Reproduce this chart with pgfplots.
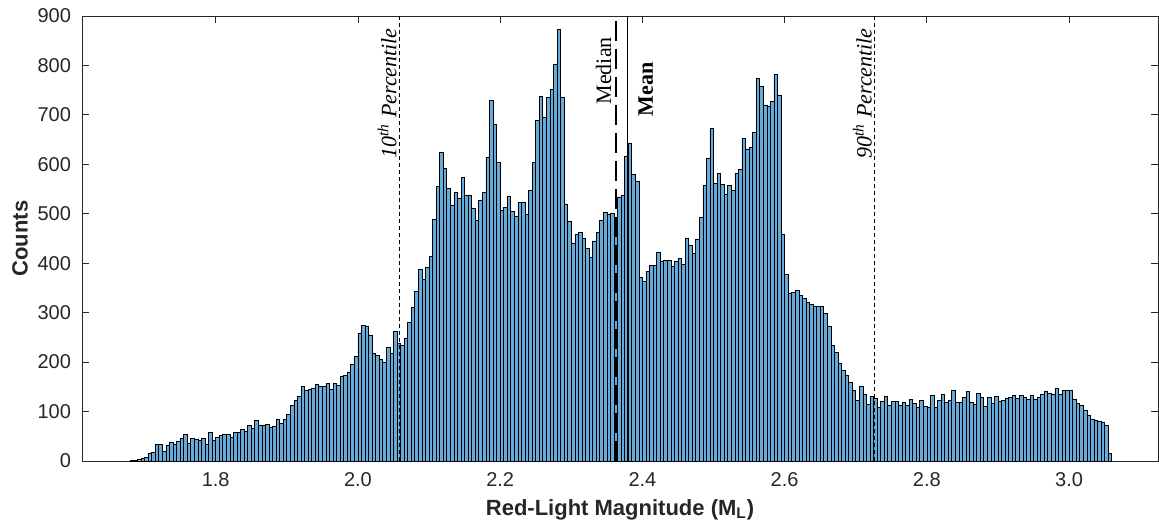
\documentclass[border=0pt]{standalone}
\usepackage{fontspec}
\setmainfont{Liberation Serif}
\setsansfont{Liberation Sans}
\usepackage{pgfplots}
\pgfplotsset{compat=1.18}
\usetikzlibrary{calc}
\definecolor{histblue}{rgb}{0.40,0.67,0.85}
\definecolor{axgray}{rgb}{0.15,0.15,0.15}

\begin{document}
\begin{tikzpicture}
\begin{axis}[scale only axis, width=538pt, height=222.5pt,
  xmin=1.612, xmax=3.125, ymin=0, ymax=900,
  xtick={1.8,2.0,2.2,2.4,2.6,2.8,3.0},
  xticklabels={1.8,2.0,2.2,2.4,2.6,2.8,3.0},
  ytick={0,100,...,900},
  tick align=inside, major tick length=3.5pt,
  axis line style={axgray, line width=0.4pt}, tick style={axgray, line width=0.4pt},
  /pgf/number format/assume math mode=true,
  tick label style={font=\sffamily\fontsize{10}{12}\selectfont, text=axgray},
  xticklabel style={yshift=-2pt}, yticklabel style={xshift=-2pt},
  xlabel={\textbf{Red-Light Magnitude (M\textsubscript{L})}},
  ylabel={\textbf{Counts}},
  label style={font=\sffamily\fontsize{11}{13}\selectfont, text=axgray},
  xlabel style={at={(axis description cs:0.5,-0.11)}, anchor=center},
  ylabel style={at={(axis description cs:-0.0576,0.5)}, anchor=center},
  clip=false]
\addplot[ybar interval, fill=histblue, draw=black, line width=0.35pt] coordinates {
(1.680,1) (1.685,1) (1.690,3) (1.695,5) (1.700,8) (1.705,16) (1.710,18) (1.715,34) (1.720,34) (1.725,20)
(1.730,32) (1.735,38) (1.740,34) (1.745,40) (1.750,46) (1.755,54) (1.760,36) (1.765,46) (1.770,44) (1.775,42)
(1.780,45) (1.785,34) (1.790,58) (1.795,41) (1.800,47) (1.805,51) (1.810,54) (1.815,54) (1.820,48) (1.825,57)
(1.830,58) (1.835,64) (1.840,59) (1.845,72) (1.850,65) (1.855,82) (1.860,73) (1.865,73) (1.870,74) (1.875,69)
(1.880,70) (1.885,84) (1.890,76) (1.895,84) (1.900,94) (1.905,113) (1.910,123) (1.915,130) (1.920,150) (1.925,143)
(1.930,145) (1.935,147) (1.940,155) (1.945,151) (1.950,150) (1.955,157) (1.960,145) (1.965,157) (1.970,153) (1.975,171)
(1.980,173) (1.985,179) (1.990,196) (1.995,211) (2.000,259) (2.005,275) (2.010,273) (2.015,254) (2.020,218) (2.025,214)
(2.030,206) (2.035,200) (2.040,229) (2.045,217) (2.050,262) (2.055,237) (2.060,233) (2.065,249) (2.070,281) (2.075,311)
(2.080,344) (2.085,388) (2.090,368) (2.095,391) (2.100,413) (2.105,488) (2.110,556) (2.115,624) (2.120,591) (2.125,552)
(2.130,518) (2.135,544) (2.140,532) (2.145,573) (2.150,537) (2.155,538) (2.160,510) (2.165,487) (2.170,528) (2.175,544)
(2.180,615) (2.185,729) (2.190,681) (2.195,604) (2.200,507) (2.205,513) (2.210,535) (2.215,505) (2.220,494) (2.225,523)
(2.230,524) (2.235,499) (2.240,548) (2.245,604) (2.250,688) (2.255,738) (2.260,695) (2.265,735) (2.270,751) (2.275,803)
(2.280,872) (2.285,735) (2.290,520) (2.295,484) (2.300,441) (2.305,458) (2.310,463) (2.315,451) (2.320,430) (2.325,411)
(2.330,445) (2.335,463) (2.340,486) (2.345,503) (2.350,498) (2.355,501) (2.360,471) (2.365,534) (2.370,538) (2.375,617)
(2.380,643) (2.385,580) (2.390,565) (2.395,372) (2.400,364) (2.405,384) (2.410,395) (2.415,396) (2.420,421) (2.425,403)
(2.430,405) (2.435,405) (2.440,393) (2.445,403) (2.450,410) (2.455,398) (2.460,451) (2.465,437) (2.470,420) (2.475,449)
(2.480,492) (2.485,557) (2.490,613) (2.495,673) (2.500,561) (2.505,581) (2.510,560) (2.515,540) (2.520,558) (2.525,548)
(2.530,581) (2.535,590) (2.540,653) (2.545,631) (2.550,635) (2.555,664) (2.560,773) (2.565,758) (2.570,720) (2.575,718)
(2.580,728) (2.585,782) (2.590,739) (2.595,459) (2.600,378) (2.605,339) (2.610,341) (2.615,345) (2.620,334) (2.625,329)
(2.630,321) (2.635,317) (2.640,312) (2.645,312) (2.650,312) (2.655,299) (2.660,272) (2.665,234) (2.670,220) (2.675,198)
(2.680,184) (2.685,173) (2.690,159) (2.695,142) (2.700,123) (2.705,150) (2.710,135) (2.715,115) (2.720,130) (2.725,126)
(2.730,109) (2.735,120) (2.740,131) (2.745,112) (2.750,121) (2.755,121) (2.760,112) (2.765,119) (2.770,113) (2.775,125)
(2.780,116) (2.785,108) (2.790,123) (2.795,111) (2.800,109) (2.805,133) (2.810,109) (2.815,123) (2.820,135) (2.825,119)
(2.830,123) (2.835,142) (2.840,119) (2.845,119) (2.850,129) (2.855,140) (2.860,119) (2.865,115) (2.870,136) (2.875,128)
(2.880,111) (2.885,129) (2.890,117) (2.895,131) (2.900,120) (2.905,123) (2.910,127) (2.915,129) (2.920,133) (2.925,126)
(2.930,133) (2.935,129) (2.940,124) (2.945,133) (2.950,125) (2.955,129) (2.960,134) (2.965,140) (2.970,137) (2.975,135)
(2.980,146) (2.985,135) (2.990,142) (2.995,143) (3.000,142) (3.005,125) (3.010,117) (3.015,112) (3.020,102) (3.025,93)
(3.030,84) (3.035,82) (3.040,80) (3.045,79) (3.050,72) (3.055,16) (3.060,0)};
% percentile, median and mean markers
\addplot[black, line width=0.5pt, dash pattern=on 2pt off 1.5pt] coordinates {(2.058,0) (2.058,900)};
\addplot[black, line width=0.5pt, dash pattern=on 2pt off 1.5pt] coordinates {(2.727,0) (2.727,900)};
\addplot[black, line width=0.8pt, dash pattern=on 10pt off 4pt] coordinates {(2.363,0) (2.363,900)};
\addplot[black, line width=0.9pt] coordinates {(2.379,0) (2.379,900)};
\node[rotate=90, anchor=south east, inner sep=0pt, font=\rmfamily\itshape\fontsize{11}{13}\selectfont] at (axis cs:2.055,876) {10\textsuperscript{th} Percentile};
\node[rotate=90, anchor=south east, inner sep=0pt, font=\rmfamily\itshape\fontsize{11}{13}\selectfont] at (axis cs:2.723,876) {90\textsuperscript{th} Percentile};
\node[rotate=90, anchor=south east, inner sep=0pt, font=\rmfamily\fontsize{11}{13}\selectfont] at (axis cs:2.357,858) {Median};
\node[rotate=90, anchor=north east, inner sep=0pt, font=\rmfamily\bfseries\fontsize{11}{13}\selectfont] at (axis cs:2.394,807) {Mean};
\end{axis}
\pgfresetboundingbox
\path[use as bounding box] ($(current axis.south west)+(-41pt,-33.5pt)$) rectangle ($(current axis.north east)+(0.5pt,8pt)$);
\end{tikzpicture}
\end{document}
